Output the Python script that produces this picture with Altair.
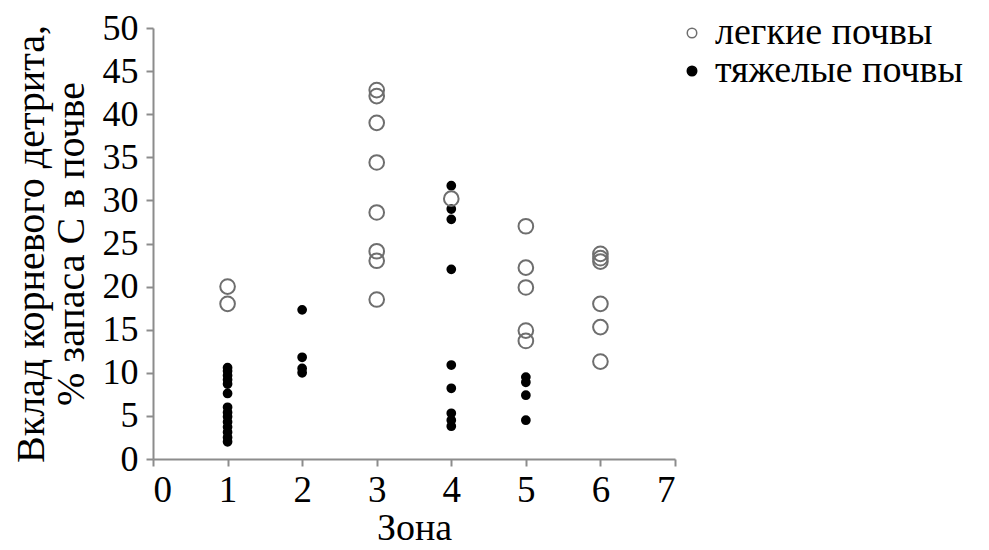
import altair as alt
import pandas as pd

series_names = ["легкие почвы", "тяжелые почвы"]

light_zone = [1, 1,
              3, 3, 3, 3, 3, 3, 3, 3,
              4,
              5, 5, 5, 5, 5,
              6, 6, 6, 6, 6, 6]
light_val = [20.0, 18.0,
             42.8, 42.1, 39.0, 34.4, 28.6, 24.1, 23.0, 18.5,
             30.2,
             27.0, 22.2, 19.9, 14.9, 13.7,
             23.8, 23.3, 22.9, 18.0, 15.3, 11.3]

heavy_zone = [1] * 14 + [2] * 4 + [4] * 9 + [5] * 4
heavy_val = [10.6, 10.2, 9.7, 9.2, 8.7, 7.6, 6.0, 5.4, 4.9, 4.3, 3.7, 3.1, 2.5, 2.0,
             17.3, 11.8, 10.5, 10.0,
             31.7, 29.0, 27.8, 22.0, 10.9, 8.2, 5.3, 4.5, 3.8,
             9.5, 8.9, 7.4, 4.5]

x_ticks = [0, 1, 2, 3, 4, 5, 6, 7]
y_ticks = [0, 5, 10, 15, 20, 25, 30, 35, 40, 45, 50]

light_df = pd.DataFrame({"zone": light_zone, "val": light_val, "type": series_names[0]})
heavy_df = pd.DataFrame({"zone": heavy_zone, "val": heavy_val, "type": series_names[1]})

FONT = "Liberation Serif"

legend = alt.Legend(orient="none", legendX=520, legendY=-14, title=None)

x_enc = alt.X("zone:Q", title="Зона",
              scale=alt.Scale(domain=[0, 7], nice=False, zero=False),
              axis=alt.Axis(values=x_ticks, format="d"))
y_enc = alt.Y("val:Q", title=["Вклад корневого детрита,", "% запаса С в почве"],
              scale=alt.Scale(domain=[0, 50], nice=False),
              axis=alt.Axis(values=y_ticks, format="d"))
stroke_enc = alt.Stroke("type:N",
                        scale=alt.Scale(domain=series_names, range=["#6e6e6e", "black"]),
                        legend=legend)
fill_enc = alt.Fill("type:N",
                    scale=alt.Scale(domain=series_names, range=["transparent", "black"]),
                    legend=legend)

heavy = alt.Chart(heavy_df).mark_point(shape="circle", strokeWidth=2, opacity=1, size=60).encode(
    x=x_enc, y=y_enc, stroke=stroke_enc, fill=fill_enc)
light = alt.Chart(light_df).mark_point(shape="circle", strokeWidth=2, opacity=1, size=215).encode(
    x=x_enc, y=y_enc, stroke=stroke_enc, fill=fill_enc)

chart = alt.layer(heavy, light).properties(
    width=522,
    height=431,
    background="white",
    autosize=alt.AutoSizeParams(type="none"),
    padding={"left": 145, "top": 20, "right": 306, "bottom": 91},
).configure_view(
    stroke=None
).configure_axis(
    grid=False,
    domainColor="#8c8c8c",
    domainWidth=2,
    tickColor="#8c8c8c",
    tickWidth=2,
    tickSize=7,
    labelFont=FONT,
    labelFontSize=37,
    labelColor="black",
    titleFont=FONT,
    titleFontWeight="normal",
    titleColor="black",
).configure_axisX(
    labelPadding=6,
    titlePadding=1,
    titleFontSize=38,
).configure_axisY(
    labelPadding=8,
    labelFontSize=36,
    titlePadding=11,
    titleFontSize=40,
    titleLineHeight=40,
).configure_legend(
    labelFont=FONT,
    labelFontSize=38,
    labelColor="black",
    labelLimit=400,
    symbolSize=90,
    symbolStrokeWidth=1.5,
    rowPadding=-3,
    labelOffset=4,
)

chart.save("out.html", embed_options={"renderer": "svg", "actions": False})
